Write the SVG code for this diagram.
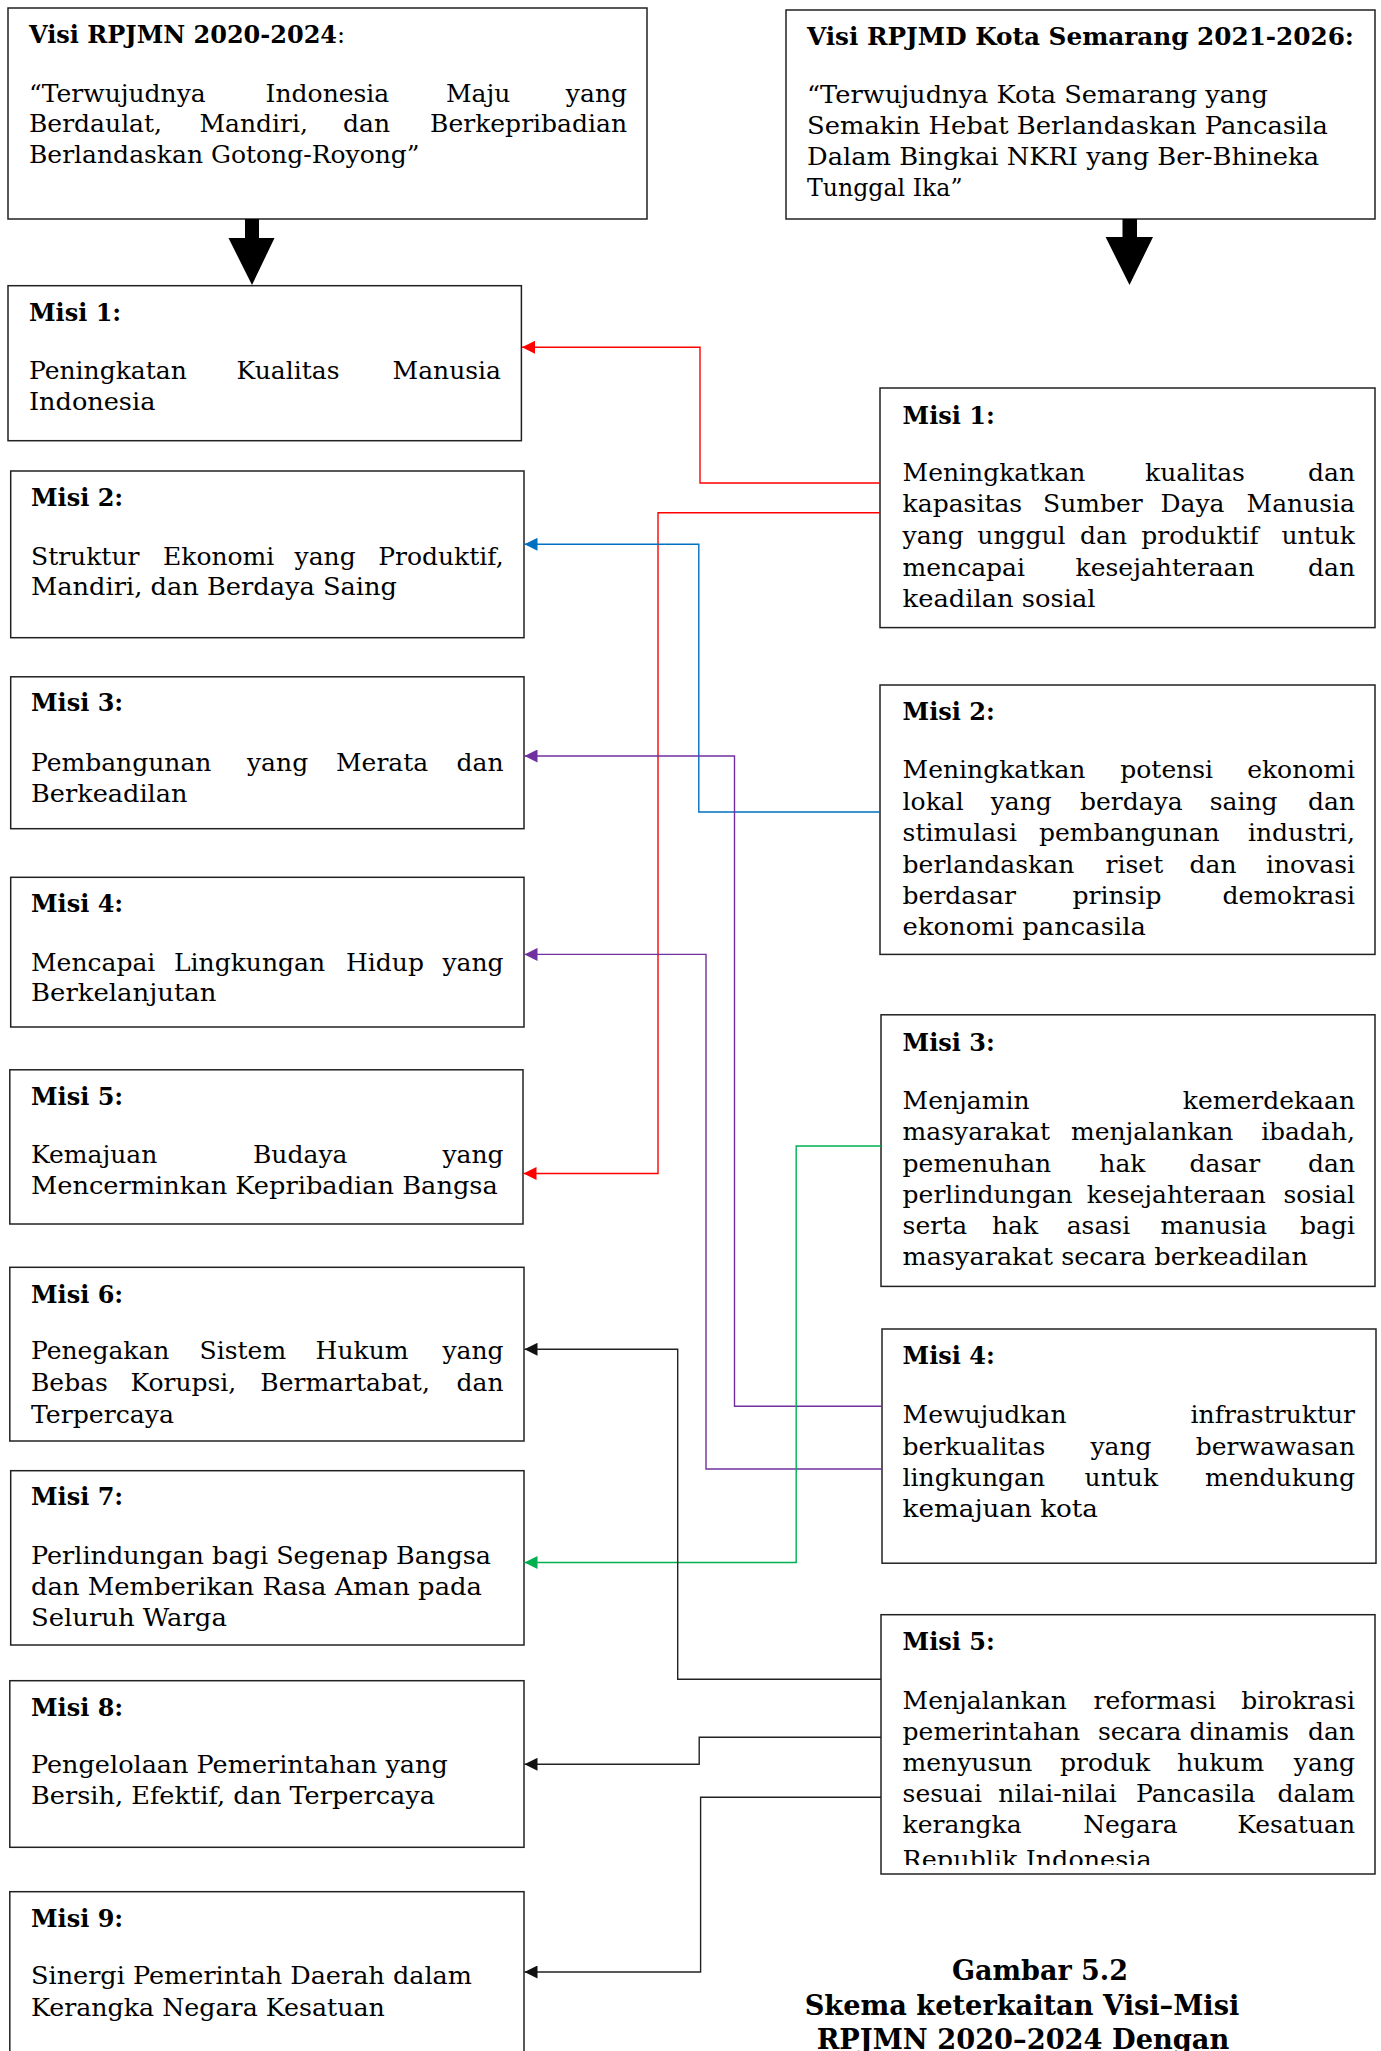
<svg xmlns="http://www.w3.org/2000/svg" width="1381" height="2051" viewBox="0 0 1381 2051">
<style>
.box{fill:#fff;stroke:#222;stroke-width:1.5}
text{font-family:"DejaVu Serif","Liberation Serif",serif;font-size:25px;fill:#000}
.b{font-weight:bold;font-size:24px}
.e{text-anchor:end}
.cap{font-weight:bold;font-size:27px;text-anchor:middle}
.c{fill:none;stroke-width:1.4}
</style>
<defs>
<marker id="mr" viewBox="0 0 10 10" refX="10" refY="5" markerWidth="14" markerHeight="13" markerUnits="userSpaceOnUse" orient="auto"><path d="M0,0L10,5L0,10z" fill="#FF0000"/></marker>
<marker id="mb" viewBox="0 0 10 10" refX="10" refY="5" markerWidth="14" markerHeight="13" markerUnits="userSpaceOnUse" orient="auto"><path d="M0,0L10,5L0,10z" fill="#0070C0"/></marker>
<marker id="mp" viewBox="0 0 10 10" refX="10" refY="5" markerWidth="14" markerHeight="13" markerUnits="userSpaceOnUse" orient="auto"><path d="M0,0L10,5L0,10z" fill="#7030A0"/></marker>
<marker id="mg" viewBox="0 0 10 10" refX="10" refY="5" markerWidth="14" markerHeight="13" markerUnits="userSpaceOnUse" orient="auto"><path d="M0,0L10,5L0,10z" fill="#00B050"/></marker>
<marker id="mk" viewBox="0 0 10 10" refX="10" refY="5" markerWidth="14" markerHeight="13" markerUnits="userSpaceOnUse" orient="auto"><path d="M0,0L10,5L0,10z" fill="#111"/></marker>
<clipPath id="clip5r"><rect x="881" y="1614" width="494" height="251"/></clipPath>
</defs>
<rect width="1381" height="2051" fill="#fff"/>

<g id="visi-rpjmn">
<rect class="box" x="8" y="8" width="639" height="211"/>
<text x="29" y="43"><tspan class="b">Visi RPJMN 2020-2024</tspan><tspan font-size="24">:</tspan></text>
<text y="102"><tspan x="29">“Terwujudnya</tspan><tspan x="265.6">Indonesia</tspan><tspan x="446">Maju</tspan></text><text class="e" x="627" y="102">yang</text>
<text y="132"><tspan x="29">Berdaulat,</tspan><tspan x="199.5">Mandiri,</tspan><tspan x="343">dan</tspan></text><text class="e" x="627" y="132">Berkepribadian</text>
<text x="29" y="163" textLength="390.6" lengthAdjust="spacingAndGlyphs">Berlandaskan Gotong-Royong”</text>
</g>

<g id="visi-rpjmd">
<rect class="box" x="786" y="10" width="589" height="209"/>
<text class="b" x="807" y="45" textLength="547" lengthAdjust="spacingAndGlyphs">Visi RPJMD Kota Semarang 2021-2026:</text>
<text x="807" y="103" textLength="461" lengthAdjust="spacingAndGlyphs">“Terwujudnya Kota Semarang yang</text>
<text x="807" y="134" textLength="521" lengthAdjust="spacingAndGlyphs">Semakin Hebat Berlandaskan Pancasila</text>
<text x="807" y="165" textLength="512" lengthAdjust="spacingAndGlyphs">Dalam Bingkai NKRI yang Ber-Bhineka</text>
<text x="807" y="196" textLength="155.5" lengthAdjust="spacingAndGlyphs">Tunggal Ika”</text>
</g>

<g id="misi1-rpjmn">
<rect class="box" x="8" y="285.7" width="513.4" height="155"/>
<text class="b" x="29" y="320.7">Misi 1:</text>
<text y="379"><tspan x="29">Peningkatan</tspan><tspan x="236.6">Kualitas</tspan></text><text class="e" x="501" y="379">Manusia</text>
<text x="29" y="410" textLength="126.4" lengthAdjust="spacingAndGlyphs">Indonesia</text>
</g>

<g id="misi2-rpjmn">
<rect class="box" x="10.7" y="471" width="513.3" height="166.7"/>
<text class="b" x="31" y="506">Misi 2:</text>
<text y="565"><tspan x="31">Struktur</tspan><tspan x="163">Ekonomi</tspan><tspan x="294.6">yang</tspan></text><text class="e" x="503.6" y="565">Produktif,</text>
<text x="31" y="595" textLength="366" lengthAdjust="spacingAndGlyphs">Mandiri, dan Berdaya Saing</text>
</g>

<g id="misi3-rpjmn">
<rect class="box" x="10.7" y="676.8" width="513.3" height="151.9"/>
<text class="b" x="31" y="711">Misi 3:</text>
<text y="770.5"><tspan x="31">Pembangunan</tspan><tspan x="247">yang</tspan><tspan x="336">Merata</tspan></text><text class="e" x="503.6" y="770.5">dan</text>
<text x="31" y="802" textLength="156.5" lengthAdjust="spacingAndGlyphs">Berkeadilan</text>
</g>

<g id="misi4-rpjmn">
<rect class="box" x="10.7" y="877.3" width="513.3" height="149.7"/>
<text class="b" x="31" y="912">Misi 4:</text>
<text y="970.7"><tspan x="31">Mencapai</tspan><tspan x="174">Lingkungan</tspan><tspan x="346">Hidup</tspan></text><text class="e" x="503.6" y="970.7">yang</text>
<text x="31" y="1001.3" textLength="185.5" lengthAdjust="spacingAndGlyphs">Berkelanjutan</text>
</g>

<g id="misi5-rpjmn">
<rect class="box" x="9.8" y="1069.8" width="513.2" height="154.2"/>
<text class="b" x="31" y="1105.4">Misi 5:</text>
<text y="1162.8"><tspan x="31">Kemajuan</tspan><tspan x="253">Budaya</tspan></text><text class="e" x="503.6" y="1162.8">yang</text>
<text x="31" y="1194.2" textLength="466.8" lengthAdjust="spacingAndGlyphs">Mencerminkan Kepribadian Bangsa</text>
</g>

<g id="misi6-rpjmn">
<rect class="box" x="9.8" y="1267.3" width="514.2" height="173.7"/>
<text class="b" x="31" y="1302.7">Misi 6:</text>
<text y="1359.3"><tspan x="31">Penegakan</tspan><tspan x="199.6">Sistem</tspan><tspan x="315.6">Hukum</tspan></text><text class="e" x="503.6" y="1359.3">yang</text>
<text y="1391"><tspan x="31">Bebas</tspan><tspan x="130.4">Korupsi,</tspan><tspan x="260.3">Bermartabat,</tspan></text><text class="e" x="503.6" y="1391">dan</text>
<text x="31" y="1422.7" textLength="143" lengthAdjust="spacingAndGlyphs">Terpercaya</text>
</g>

<g id="misi7-rpjmn">
<rect class="box" x="10.7" y="1470.7" width="513.3" height="174.3"/>
<text class="b" x="31" y="1505">Misi 7:</text>
<text x="31" y="1564" textLength="460" lengthAdjust="spacingAndGlyphs">Perlindungan bagi Segenap Bangsa</text>
<text x="31" y="1594.5" textLength="451" lengthAdjust="spacingAndGlyphs">dan Memberikan Rasa Aman pada</text>
<text x="31" y="1625.7" textLength="195.8" lengthAdjust="spacingAndGlyphs">Seluruh Warga</text>
</g>

<g id="misi8-rpjmn">
<rect class="box" x="9.8" y="1680.7" width="514.2" height="166.6"/>
<text class="b" x="31" y="1716">Misi 8:</text>
<text x="31" y="1773.3" textLength="416.8" lengthAdjust="spacingAndGlyphs">Pengelolaan Pemerintahan yang</text>
<text x="31" y="1804" textLength="404" lengthAdjust="spacingAndGlyphs">Bersih, Efektif, dan Terpercaya</text>
</g>

<g id="misi9-rpjmn">
<rect class="box" x="9.8" y="1891.7" width="514.2" height="170"/>
<text class="b" x="31" y="1926.7">Misi 9:</text>
<text x="31" y="1984" textLength="441" lengthAdjust="spacingAndGlyphs">Sinergi Pemerintah Daerah dalam</text>
<text x="31" y="2016" textLength="353.8" lengthAdjust="spacingAndGlyphs">Kerangka Negara Kesatuan</text>
</g>

<g id="misi1-rpjmd">
<rect class="box" x="880" y="388" width="495" height="239.6"/>
<text class="b" x="902.6" y="423.6">Misi 1:</text>
<text y="481"><tspan x="902.6">Meningkatkan</tspan><tspan x="1145">kualitas</tspan></text><text class="e" x="1355" y="481">dan</text>
<text y="512.4"><tspan x="902.6">kapasitas</tspan><tspan x="1043">Sumber</tspan><tspan x="1160.5">Daya</tspan></text><text class="e" x="1355" y="512.4">Manusia</text>
<text y="544"><tspan x="902.6">yang</tspan><tspan x="977.3">unggul</tspan><tspan x="1080">dan</tspan><tspan x="1141.3">produktif</tspan></text><text class="e" x="1355" y="544">untuk</text>
<text y="575.5"><tspan x="902.6">mencapai</tspan><tspan x="1075.6">kesejahteraan</tspan></text><text class="e" x="1355" y="575.5">dan</text>
<text x="902.6" y="606.5" textLength="193" lengthAdjust="spacingAndGlyphs">keadilan sosial</text>
</g>

<g id="misi2-rpjmd">
<rect class="box" x="880" y="685" width="495" height="269.4"/>
<text class="b" x="902.6" y="720.2">Misi 2:</text>
<text y="777.6"><tspan x="902.6">Meningkatkan</tspan><tspan x="1120.3">potensi</tspan></text><text class="e" x="1355" y="777.6">ekonomi</text>
<text y="809.5"><tspan x="902.6">lokal</tspan><tspan x="990.7">yang</tspan><tspan x="1080">berdaya</tspan><tspan x="1209.7">saing</tspan></text><text class="e" x="1355" y="809.5">dan</text>
<text y="841"><tspan x="902.6">stimulasi</tspan><tspan x="1039">pembangunan</tspan></text><text class="e" x="1355" y="841">industri,</text>
<text y="872.5"><tspan x="902.6">berlandaskan</tspan><tspan x="1105.6">riset</tspan><tspan x="1189.6">dan</tspan></text><text class="e" x="1355" y="872.5">inovasi</text>
<text y="904"><tspan x="902.6">berdasar</tspan><tspan x="1072.5">prinsip</tspan></text><text class="e" x="1355" y="904">demokrasi</text>
<text x="902.6" y="934.5" textLength="243.2" lengthAdjust="spacingAndGlyphs">ekonomi pancasila</text>
</g>

<g id="misi3-rpjmd">
<rect class="box" x="881" y="1014.8" width="494" height="271.6"/>
<text class="b" x="902.6" y="1051.2">Misi 3:</text>
<text x="902.6" y="1108.5">Menjamin</text><text class="e" x="1355" y="1108.5">kemerdekaan</text>
<text y="1140"><tspan x="902.6">masyarakat</tspan><tspan x="1071">menjalankan</tspan></text><text class="e" x="1355" y="1140">ibadah,</text>
<text y="1171.5"><tspan x="902.6">pemenuhan</tspan><tspan x="1099.3">hak</tspan><tspan x="1189.6">dasar</tspan></text><text class="e" x="1355" y="1171.5">dan</text>
<text y="1202.5"><tspan x="902.6">perlindungan</tspan><tspan x="1086.8">kesejahteraan</tspan></text><text class="e" x="1355" y="1202.5">sosial</text>
<text y="1233.5"><tspan x="902.6">serta</tspan><tspan x="992">hak</tspan><tspan x="1066.7">asasi</tspan><tspan x="1160.5">manusia</tspan></text><text class="e" x="1355" y="1233.5">bagi</text>
<text x="902.6" y="1264.7" textLength="405.4" lengthAdjust="spacingAndGlyphs">masyarakat secara berkeadilan</text>
</g>

<g id="misi4-rpjmd">
<rect class="box" x="882" y="1329" width="494" height="234.2"/>
<text class="b" x="902.6" y="1364.3">Misi 4:</text>
<text x="902.6" y="1422.9">Mewujudkan</text><text class="e" x="1355" y="1422.9">infrastruktur</text>
<text y="1454.5"><tspan x="902.6">berkualitas</tspan><tspan x="1090.4">yang</tspan></text><text class="e" x="1355" y="1454.5">berwawasan</text>
<text y="1485.5"><tspan x="902.6">lingkungan</tspan><tspan x="1084.6">untuk</tspan></text><text class="e" x="1355" y="1485.5">mendukung</text>
<text x="902.6" y="1517" textLength="195.4" lengthAdjust="spacingAndGlyphs">kemajuan kota</text>
</g>

<g id="misi5-rpjmd">
<rect class="box" x="881" y="1614.7" width="494" height="259.3"/>
<text class="b" x="902.6" y="1650">Misi 5:</text>
<text y="1709"><tspan x="902.6">Menjalankan</tspan><tspan x="1093.5">reformasi</tspan></text><text class="e" x="1355" y="1709">birokrasi</text>
<text y="1739.5"><tspan x="902.6">pemerintahan</tspan><tspan x="1098">secara</tspan><tspan x="1189.6">dinamis</tspan></text><text class="e" x="1355" y="1739.5">dan</text>
<text y="1770.5"><tspan x="902.6">menyusun</tspan><tspan x="1060">produk</tspan><tspan x="1177">hukum</tspan></text><text class="e" x="1355" y="1770.5">yang</text>
<text y="1801.7"><tspan x="902.6">sesuai</tspan><tspan x="998.3">nilai-nilai</tspan><tspan x="1136">Pancasila</tspan></text><text class="e" x="1355" y="1801.7">dalam</text>
<text y="1833.3"><tspan x="902.6">kerangka</tspan><tspan x="1083.2">Negara</tspan></text><text class="e" x="1355" y="1833.3">Kesatuan</text>
<text x="902.6" y="1868" textLength="249" lengthAdjust="spacingAndGlyphs" clip-path="url(#clip5r)">Republik Indonesia</text>
</g>

<g id="visi-arrows" fill="#000">
<path d="M245,219H259V238H274.5L252,285L228.5,238H245Z"/>
<path d="M1122.5,219H1137V237H1153L1129.5,285L1105.6,237H1122.5Z"/>
</g>

<g id="connectors">
<path class="c" stroke="#FF0000" marker-end="url(#mr)" d="M880,483H700V347.3H522"/>
<path class="c" stroke="#FF0000" marker-end="url(#mr)" d="M880,512.7H658V1173.5H523.5"/>
<path class="c" stroke="#0070C0" marker-end="url(#mb)" d="M880,812H698.8V544.3H524.5"/>
<path class="c" stroke="#7030A0" marker-end="url(#mp)" d="M882,1406.3H734.5V756H524.5"/>
<path class="c" stroke="#7030A0" marker-end="url(#mp)" d="M882,1469H706V954.4H524.5"/>
<path class="c" stroke="#00B050" marker-end="url(#mg)" d="M881,1146H796.2V1562.5H524.5"/>
<path class="c" stroke="#222" marker-end="url(#mk)" d="M881,1679.3H677.7V1349.3H524.5"/>
<path class="c" stroke="#222" marker-end="url(#mk)" d="M881,1737.3H699.2V1764.3H524.5"/>
<path class="c" stroke="#222" marker-end="url(#mk)" d="M881,1797.3H700.6V1972H524.5"/>
</g>

<g id="caption">
<text class="cap" x="1040" y="1980">Gambar 5.2</text>
<text class="cap" x="1022" y="2014.5" textLength="434.7" lengthAdjust="spacingAndGlyphs">Skema keterkaitan Visi–Misi</text>
<text class="cap" x="1023" y="2049" textLength="412.7" lengthAdjust="spacingAndGlyphs">RPJMN 2020–2024 Dengan</text>
</g>
</svg>
